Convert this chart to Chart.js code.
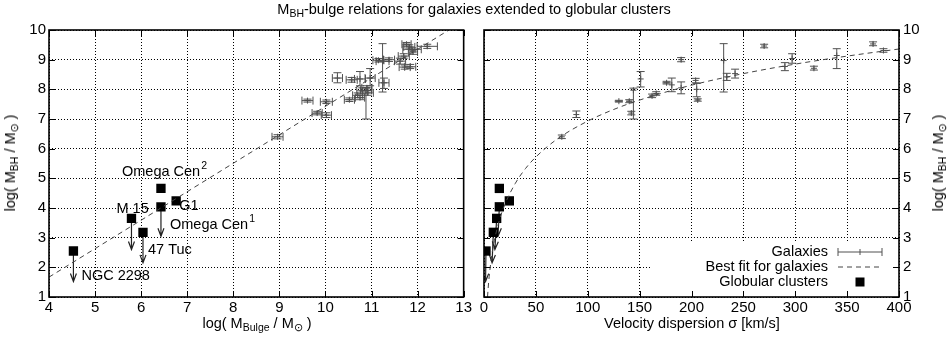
<!DOCTYPE html>
<html>
<head>
<meta charset="utf-8">
<script src="https://cdn.jsdelivr.net/npm/chart.js@4.4.1/dist/chart.umd.min.js"></script>
<style>
  html, body { margin: 0; padding: 0; background: #fff; }
  #wrap { position: relative; width: 948px; height: 346px; font-family: "Liberation Sans", Arial, sans-serif; color: #000; }
  canvas { position: absolute; top: 0; }
  #cLeft { left: 0; }
  #cRight { left: 474px; }
  .txt { position: absolute; white-space: nowrap; font-size: 14.5px; line-height: 16px; }
  .txt sub { font-size: 10.5px; vertical-align: -3px; line-height: 0; }
  .rot { transform: translate(-50%, -50%) rotate(-90deg); }
</style>
</head>
<body>
<div id="wrap">
  <canvas id="cLeft" width="474" height="346"></canvas>
  <canvas id="cRight" width="474" height="346"></canvas>
  <div class="txt" style="left:0;width:948px;text-align:center;top:1px">M<sub>BH</sub>-bulge relations for galaxies extended to globular clusters</div>
  <div class="txt" style="left:257px;top:315px;transform:translateX(-50%)">log( M<sub>Bulge</sub> / M<sub>⊙</sub> )</div>
  <div class="txt" style="left:692px;top:315px;transform:translateX(-50%)">Velocity dispersion σ [km/s]</div>
  <div class="txt rot" style="left:10px;top:163px">log( M<sub>BH</sub> / M<sub>⊙</sub> )</div>
  <div class="txt rot" style="left:938px;top:163px">log( M<sub>BH</sub> / M<sub>⊙</sub> )</div>
</div>
<script>
// ---- left panel: galaxies, log bulge mass vs log BH mass
const bulgeLogM    = [8.96, 9.61, 10.02, 9.82, 10.02, 10.26, 10.57, 10.52, 10.75, 10.97, 11.27, 11.24, 10.88, 10.70, 10.80, 10.90, 10.75, 10.92, 11.15, 11.38, 11.62, 11.72, 11.84, 11.76, 11.82, 11.88, 11.90, 12.21, 11.70];
const bulgeLogMErr = [0.12, 0.12, 0.13, 0.11, 0.11, 0.11, 0.12, 0.11, 0.12, 0.11, 0.11, 0.14, 0.12, 0.11, 0.12, 0.11, 0.10, 0.12, 0.12, 0.12, 0.12, 0.12, 0.12, 0.10, 0.12, 0.20, 0.10, 0.22, 0.12];
const bulgeBH      = [6.40, 7.62, 7.58, 7.20, 7.13, 8.38, 8.32, 7.65, 8.35, 8.38, 8.22, 8.95, 7.97, 7.80, 7.95, 8.05, 7.72, 7.88, 8.98, 9.00, 8.95, 8.75, 8.76, 9.52, 9.43, 9.35, 9.26, 9.45, 9.12];
const bulgeBHLo    = [6.33, 7.57, 7.52, 7.14, 7.05, 8.22, 8.24, 7.59, 8.12, 8.12, 8.03, 7.91, 7.00, 7.72, 7.85, 7.95, 7.65, 7.80, 8.92, 8.94, 8.85, 8.68, 8.70, 9.46, 9.36, 9.30, 9.18, 9.38, 9.05];
const bulgeBHHi    = [6.47, 7.67, 7.64, 7.26, 7.21, 8.56, 8.40, 7.71, 8.60, 8.70, 8.38, 9.54, 8.05, 7.88, 8.05, 8.12, 7.80, 7.96, 9.04, 9.06, 9.05, 8.82, 8.84, 9.58, 9.50, 9.40, 9.34, 9.52, 9.20];

// ---- right panel: galaxies, velocity dispersion vs log BH mass
const sigma     = [75, 89, 130, 140, 142, 144, 151, 162, 166, 176, 181, 190, 190, 204, 205, 206, 231, 234, 242, 270, 290, 297, 318, 340, 375, 385];
const sigmaErr  = [0, 0, 4, 3, 0, 0, 0, 2, 2, 4, 0, 0, 0, 0, 0, 2, 0, 0, 0, 0, 0, 0, 0, 0, 0, 0];
const sigmaBH   = [6.40, 7.15, 7.60, 7.60, 7.20, 7.97, 8.35, 7.78, 7.86, 8.22, 8.15, 9.00, 8.05, 8.30, 8.00, 7.64, 8.97, 8.42, 8.53, 9.46, 8.77, 9.04, 8.71, 9.14, 9.53, 9.31];
const sigmaBHLo = [6.34, 7.05, 7.57, 7.55, 7.14, 7.00, 8.08, 7.72, 7.80, 8.18, 7.92, 8.93, 7.85, 8.22, 7.75, 7.60, 7.91, 8.30, 8.38, 9.40, 8.63, 8.88, 8.65, 8.70, 9.47, 9.25];
const sigmaBHHi = [6.46, 7.27, 7.63, 7.65, 7.26, 8.04, 8.60, 7.84, 7.92, 8.27, 8.38, 9.07, 8.25, 8.37, 8.20, 7.68, 9.54, 8.54, 8.68, 9.52, 8.90, 9.20, 8.78, 9.37, 9.60, 9.37];

// ---- best fits
const fitBulgeX = [4, 12.68];
const fitBulgeY = [1.67, 10];
const fitSigmaX = [3.4, 4, 5, 7, 10, 15, 20, 30, 40, 50, 70, 100, 130, 160, 200, 250, 300, 350, 400];
const fitSigmaY = [1.0, 1.3, 1.69, 2.28, 2.9, 3.61, 4.11, 4.82, 5.33, 5.72, 6.31, 6.93, 7.39, 7.75, 8.14, 8.53, 8.85, 9.12, 9.36];

// ---- globular clusters (arrow = upper limit)
const gcNames      = ["NGC 2298", "M 15", "47 Tuc", "Omega Cen", "Omega Cen", "G1"];
const gcSup        = ["", "", "", "1", "2", ""];
const gcBulge      = [4.53, 5.79, 6.04, 6.43, 6.43, 6.76];
const gcSigma      = [1.9, 12.2, 9.0, 14.8, 14.8, 24.4];
const gcBH         = [2.55, 3.65, 3.18, 4.04, 4.66, 4.24];
const gcLimitBH    = [1.52, 2.60, 2.15, 3.05, null, null];
const gcLimitSigma = [1.5, 10.5, 7.8, 13.5, null, null];

const xTicksBulge = [4, 5, 6, 7, 8, 9, 10, 11, 12, 13];
const xTicksSigma = [0, 50, 100, 150, 200, 250, 300, 350, 400];
const yTicks      = [1, 2, 3, 4, 5, 6, 7, 8, 9, 10];

// pixel offsets of the cluster names from their square
const labelOffsets = [[8, 25], [-15, -9], [5, 18], [9, 18], [-39, -16], [3, 5]];

const FONT = "'Liberation Sans', Arial, sans-serif";
Chart.defaults.font.family = FONT;
Chart.defaults.font.size = 15;
Chart.defaults.color = "#000";

const ERR_COLOR = "#505050";
const CAP = 4;

const pts = (xs, ys) => xs.map((x, i) => ({ x, y: ys[i] }));

const errorBars = {
  id: "errorBars",
  beforeDatasetsDraw(chart) {
    const { ctx, chartArea: a, scales: { x, y } } = chart;
    ctx.save();
    ctx.beginPath();
    ctx.rect(a.left, a.top, a.width, a.height);
    ctx.clip();
    chart.data.datasets.forEach((ds) => {
      if (ds.errLo) {
        ctx.strokeStyle = ERR_COLOR;
        ctx.lineWidth = 1;
        ctx.beginPath();
        ds.data.forEach((p, i) => {
          const px = x.getPixelForValue(p.x), py = y.getPixelForValue(p.y);
          const dx = ds.errX[i];
          if (dx) {
            const x0 = x.getPixelForValue(p.x - dx), x1 = x.getPixelForValue(p.x + dx);
            ctx.moveTo(x0, py); ctx.lineTo(x1, py);
            if (ds.xCaps) {
              ctx.moveTo(x0, py - CAP); ctx.lineTo(x0, py + CAP);
              ctx.moveTo(x1, py - CAP); ctx.lineTo(x1, py + CAP);
            }
          }
          const y0 = y.getPixelForValue(ds.errLo[i]), y1 = y.getPixelForValue(ds.errHi[i]);
          ctx.moveTo(px, y0); ctx.lineTo(px, y1);
          ctx.moveTo(px - CAP, y0); ctx.lineTo(px + CAP, y0);
          ctx.moveTo(px - CAP, y1); ctx.lineTo(px + CAP, y1);
        });
        ctx.stroke();
      }
      if (ds.limitY) {
        ctx.strokeStyle = "#222";
        ctx.lineWidth = 1.2;
        ds.data.forEach((p, i) => {
          if (ds.limitY[i] == null) return;
          const px = x.getPixelForValue(p.x), py = y.getPixelForValue(p.y);
          const tx = x.getPixelForValue(ds.limitX ? ds.limitX[i] : p.x), ty = y.getPixelForValue(ds.limitY[i]);
          const len = Math.hypot(tx - px, ty - py);
          const ux = (tx - px) / len, uy = (ty - py) / len;
          ctx.beginPath();
          ctx.moveTo(px, py); ctx.lineTo(tx, ty);
          ctx.moveTo(tx - 8 * ux - 3 * uy, ty - 8 * uy + 3 * ux); ctx.lineTo(tx, ty);
          ctx.lineTo(tx - 8 * ux + 3 * uy, ty - 8 * uy - 3 * ux);
          ctx.stroke();
        });
      }
    });
    ctx.restore();
  }
};

const frame = {
  id: "frame",
  afterDraw(chart) {
    const { ctx, chartArea: a, scales: { x, y } } = chart;
    ctx.save();
    ctx.strokeStyle = "#000";
    ctx.lineWidth = 1;
    ctx.beginPath();
    x.ticks.forEach((t) => {
      const px = Math.round(x.getPixelForValue(t.value)) + 0.5;
      ctx.moveTo(px, a.bottom); ctx.lineTo(px, a.bottom - 6);
      ctx.moveTo(px, a.top); ctx.lineTo(px, a.top + 6);
    });
    y.ticks.forEach((t) => {
      const py = Math.round(y.getPixelForValue(t.value)) + 0.5;
      ctx.moveTo(a.left, py); ctx.lineTo(a.left + 6, py);
      ctx.moveTo(a.right, py); ctx.lineTo(a.right - 6, py);
    });
    ctx.stroke();
    ctx.lineWidth = 1.6;
    ctx.strokeRect(a.left, a.top, a.width, a.height);
    ctx.restore();
  }
};

const clusterLabels = {
  id: "clusterLabels",
  afterDatasetsDraw(chart) {
    const { ctx, scales: { x, y } } = chart;
    ctx.save();
    ctx.fillStyle = "#000";
    ctx.textBaseline = "middle";
    gcNames.forEach((name, i) => {
      const px = x.getPixelForValue(gcBulge[i]) + labelOffsets[i][0];
      const py = y.getPixelForValue(gcBH[i]) + labelOffsets[i][1];
      ctx.font = "14.5px " + FONT;
      ctx.fillText(name, px, py);
      if (gcSup[i]) {
        const w = ctx.measureText(name).width;
        ctx.font = "10.5px " + FONT;
        ctx.fillText(gcSup[i], px + w + 1, py - 6);
      }
    });
    ctx.restore();
  }
};

const keyBox = {
  id: "keyBox",
  afterDatasetsDraw(chart) {
    const { ctx, chartArea: a } = chart;
    const left = a.right - 249, top = a.bottom - 54;
    ctx.save();
    ctx.fillStyle = "#fff";
    ctx.fillRect(left, top, a.right - left, a.bottom - top);
    ctx.fillStyle = "#000";
    ctx.font = "14.5px " + FONT;
    ctx.textAlign = "right";
    ctx.textBaseline = "middle";
    const tx = a.right - 71, s0 = a.right - 61, s1 = a.right - 17;
    const rows = [a.bottom - 45, a.bottom - 30, a.bottom - 15];
    ctx.fillText("Galaxies", tx, rows[0]);
    ctx.fillText("Best fit for galaxies", tx, rows[1]);
    ctx.fillText("Globular clusters", tx, rows[2]);
    ctx.strokeStyle = ERR_COLOR;
    ctx.lineWidth = 1;
    ctx.beginPath();
    ctx.moveTo(s0, rows[0]); ctx.lineTo(s1, rows[0]);
    ctx.moveTo(s0, rows[0] - CAP); ctx.lineTo(s0, rows[0] + CAP);
    ctx.moveTo(s1, rows[0] - CAP); ctx.lineTo(s1, rows[0] + CAP);
    const mid = (s0 + s1) / 2;
    ctx.moveTo(mid, rows[0] - 3); ctx.lineTo(mid, rows[0] + 3);
    ctx.stroke();
    ctx.strokeStyle = "#444";
    ctx.setLineDash([5, 4]);
    ctx.beginPath();
    ctx.moveTo(s0, rows[1]); ctx.lineTo(s1, rows[1]);
    ctx.stroke();
    ctx.setLineDash([]);
    ctx.fillRect(mid - 4.5, rows[2] - 4.5, 9, 9);
    ctx.restore();
  }
};

function axis(min, max, step, extra) {
  return Object.assign({
    type: "linear",
    min, max,
    ticks: { stepSize: step, padding: 2, font: { size: 15 }, color: "#000" },
    grid: { color: "#000", lineWidth: 1, drawTicks: false },
    border: { display: false, dash: [1, 2] }
  }, extra);
}

const fitStyle = { type: "line", borderColor: "#444", borderWidth: 1, borderDash: [5, 4], pointRadius: 0, fill: false };
const galStyle = { pointStyle: "cross", pointRadius: 3, borderColor: ERR_COLOR, borderWidth: 1, backgroundColor: ERR_COLOR };
const gcStyle = { pointStyle: "rect", pointRadius: 6.6, backgroundColor: "#000", borderColor: "#000", borderWidth: 0 };

new Chart(document.getElementById("cLeft"), {
  type: "scatter",
  data: {
    datasets: [
      Object.assign({ label: "Best fit", data: pts(fitBulgeX, fitBulgeY) }, fitStyle),
      Object.assign({ label: "Galaxies", data: pts(bulgeLogM, bulgeBH), errX: bulgeLogMErr, errLo: bulgeBHLo, errHi: bulgeBHHi, xCaps: true }, galStyle),
      Object.assign({ label: "Globular clusters", data: pts(gcBulge, gcBH), limitY: gcLimitBH }, gcStyle)
    ]
  },
  options: {
    responsive: false,
    animation: false,
    layout: { padding: { top: 30, right: 9, left: 0, bottom: 0 } },
    plugins: { legend: { display: false }, tooltip: { enabled: false } },
    scales: {
      x: axis(4, 13, 1, { afterFit(s) { s.height = 49; }, afterBuildTicks(s) { s.ticks = xTicksBulge.map((v) => ({ value: v })); } }),
      y: axis(1, 10, 1, { ticks: { stepSize: 1, padding: 3, font: { size: 15 }, color: "#000" }, afterFit(s) { s.width = 49; }, afterBuildTicks(s) { s.ticks = yTicks.map((v) => ({ value: v })); } })
    }
  },
  plugins: [errorBars, clusterLabels, frame]
});

new Chart(document.getElementById("cRight"), {
  type: "scatter",
  data: {
    datasets: [
      Object.assign({ label: "Best fit", data: pts(fitSigmaX, fitSigmaY), cubicInterpolationMode: "monotone" }, fitStyle),
      Object.assign({ label: "Galaxies", data: pts(sigma, sigmaBH), errX: sigmaErr, errLo: sigmaBHLo, errHi: sigmaBHHi, xCaps: false }, galStyle),
      Object.assign({ label: "Globular clusters", data: pts(gcSigma, gcBH), limitY: gcLimitBH, limitX: gcLimitSigma }, gcStyle)
    ]
  },
  options: {
    responsive: false,
    animation: false,
    layout: { padding: { top: 30, right: 0, left: 10, bottom: 0 } },
    plugins: { legend: { display: false }, tooltip: { enabled: false } },
    scales: {
      x: axis(0, 400, 50, { afterFit(s) { s.height = 49; }, afterBuildTicks(s) { s.ticks = xTicksSigma.map((v) => ({ value: v })); } }),
      y: axis(1, 10, 1, { position: "right", ticks: { stepSize: 1, padding: 4, font: { size: 15 }, color: "#000" }, afterFit(s) { s.width = 49; }, afterBuildTicks(s) { s.ticks = yTicks.map((v) => ({ value: v })); } })
    }
  },
  plugins: [errorBars, keyBox, frame]
});
</script>
</body>
</html>
